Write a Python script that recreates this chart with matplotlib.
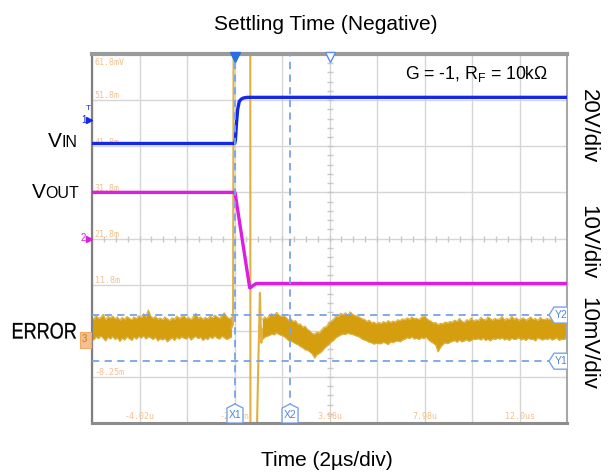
import numpy as np
import matplotlib
matplotlib.use("Agg")
import matplotlib.pyplot as plt
from matplotlib.patches import Polygon, Rectangle, PathPatch
from matplotlib.textpath import TextPath
from matplotlib.font_manager import FontProperties
from matplotlib.transforms import Affine2D

plt.rcParams['font.family'] = ['Liberation Sans', 'DejaVu Sans']
plt.rcParams['mathtext.fontset'] = 'custom'
plt.rcParams['mathtext.rm'] = 'Liberation Sans'

# ---------------- scope setup ----------------
T_MIN, T_MAX = -6.02, 13.98          # µs, 2 µs/div
N_DIV_Y = 8

VIN_SCALE, VIN_GND = 20.0, 6.57      # V/div, ground position (div)
VOUT_SCALE, VOUT_GND = 10.0, 4.00
ERR_SCALE, ERR_GND = 10.0, 1.84      # mV/div

# ---------------- traces ----------------
vin_t = [-6.02, -0.01, 0.02, 0.06, 0.11, 0.18, 0.26, 0.35, 0.50, 13.98]
vin_v = [-10.2, -10.2, -8.5, -2.0, 4.4, 8.0, 9.0, 9.5, 9.8, 9.8]

vout_t = [-6.02, 0.00, 0.62, 0.67, 0.76, 0.90, 13.98]
vout_v = [10.0, 10.0, -10.7, -10.6, -10.2, -9.75, -9.75]

# error amplifier output: noise envelope before the step (mV)
err_pre_t0, err_pre_dt = -6.05, 0.1
err_pre_hi = [4.6, 4.1, 4.9, 4.3, 4.5, 5.2, 4.0, 4.7, 4.4, 4.8,
              4.2, 4.6, 3.9, 4.5, 4.1, 4.7, 4.3, 4.0, 4.6, 4.2,
              4.9, 4.4, 5.3, 4.6, 6.1, 4.8, 4.3, 4.7, 4.1, 4.4,
              4.0, 4.6, 4.2, 3.8, 4.4, 4.1, 4.8, 4.3, 4.6, 4.9,
              4.2, 4.5, 4.0, 4.7, 5.4, 4.3, 4.6, 4.1, 4.5, 4.2,
              4.8, 4.4, 5.0, 4.6, 4.3, 4.9, 5.5, 4.7, 4.2, 4.5]
err_pre_lo = [0.2, -0.4, 0.3, -0.1, 0.5, 0.0, -0.6, 0.2, -0.2, 0.4,
              -0.3, 0.1, -0.7, 0.0, -0.4, 0.3, -0.1, -0.5, 0.2, -0.2,
              0.4, 0.0, 0.5, -0.2, 0.3, 0.1, -0.3, 0.2, -0.6, -0.1,
              -0.4, 0.0, -0.8, -0.3, 0.1, -0.5, 0.2, -0.2, 0.3, 0.0,
              -0.2, 0.3, -0.4, 0.1, 0.4, -0.1, 0.2, -0.5, 0.0, -0.3,
              0.3, -0.1, 0.5, 0.0, -0.2, 0.4, 0.1, -0.3, 0.0, 0.2]

# overload / recovery during the step (mV, clipped at screen edges)
err_step_t = [-0.15, -0.08, -0.06, 0.645, 0.65, 0.93, 0.98, 1.05, 1.08, 1.11, 1.15]
err_step_mv = [2.2, 3.0, 61.6, 61.6, -18.4, -18.4, -6.0, 9.8, 4.0, -1.0, 2.0]

# noise envelope after recovery (mV)
err_post_t0, err_post_dt = 1.15, 0.1
err_post_hi = [4.0, 4.6, 4.2, 5.0, 5.3, 4.8, 5.6, 5.0, 4.7, 4.9,
               4.5, 3.9, 4.2, 3.6, 3.8, 3.0, 3.1, 2.4, 2.6, 1.9,
               1.6, 1.0, 0.9, 1.3, 1.1, 1.8, 2.4, 2.5, 3.3, 3.7,
               4.1, 4.8, 4.6, 5.4, 5.1, 5.5, 5.0, 5.7, 5.2, 4.9,
               4.8, 4.5, 4.2, 4.1, 3.6, 3.9, 3.3, 3.5, 3.1, 3.4,
               3.2, 3.6, 3.3, 3.8, 3.4, 3.7, 3.5, 4.0, 3.8, 4.2,
               4.0, 4.4, 4.1, 4.6, 4.2, 4.3, 4.0, 4.5, 4.9, 4.4,
               3.9, 3.7, 3.3, 3.4, 2.9, 3.2, 3.1, 3.5, 3.3, 3.6,
               3.5, 3.9, 3.6, 4.3, 3.7, 3.4, 4.0, 3.8, 4.4, 3.7,
               4.0, 3.8, 4.5, 4.1, 3.9, 4.6, 4.2, 3.9, 4.3, 4.0,
               4.2, 4.7, 3.9, 4.3, 4.0, 4.8, 4.1, 4.4, 3.9, 4.2,
               4.4, 3.9, 4.2, 4.6, 4.0, 4.3, 3.8, 4.5, 4.1, 4.0,
               4.3, 4.0, 4.6, 3.9, 4.2, 4.4, 3.8, 4.1, 4.3, 4.0]
err_post_lo = [-0.3, 0.2, 0.4, 0.6, 0.9, 0.7, 1.2, 0.8, 0.6, 0.4,
               0.0, -0.5, -0.6, -0.9, -1.2, -1.4, -1.8, -2.1, -2.5, -2.6,
               -3.0, -3.4, -4.3, -3.6, -3.3, -2.9, -2.3, -1.8, -1.4, -0.8,
               -0.5, 0.1, 0.4, 0.7, 0.9, 0.8, 1.1, 0.9, 0.8, 0.6,
               0.4, 0.2, -0.2, -0.4, -0.6, -0.9, -1.0, -1.3, -1.1, -1.2,
               -1.2, -0.9, -1.1, -1.4, -0.8, -1.0, -0.7, -0.6, -0.8, -0.4,
               -0.2, 0.1, -0.1, 0.3, -0.2, 0.0, -0.3, 0.1, -0.1, 0.2,
               -0.4, -0.8, -1.1, -1.5, -3.0, -2.0, -1.4, -1.0, -1.2, -0.9,
               -0.7, -0.5, -0.9, -0.4, -0.8, -0.6, -0.3, -0.7, -0.5, -0.2,
               -0.3, -0.1, -0.4, 0.0, -0.5, -0.2, -0.6, -0.1, -0.3, 0.0,
               -0.2, 0.1, -0.4, -0.1, -0.5, 0.0, -0.3, -0.2, 0.1, -0.4,
               -0.1, -0.5, 0.0, -0.3, -0.2, -0.6, 0.1, -0.2, -0.4, -0.1,
               -0.3, 0.0, -0.4, -0.2, 0.1, -0.5, -0.2, -0.3, 0.0, -0.2]

# cursors
cursor_x = {"X1": 0.0, "X2": 2.32}      # µs
cursor_y = {"Y1": -5.0, "Y2": 5.0}      # mV (error channel)

# on-screen scale readouts
time_labels = ["-4.02u", "-20.0n", "3.98u", "7.98u", "12.0us"]
time_label_t = [-4.02, -0.02, 3.98, 7.98, 11.98]
level_labels = ["61.8mV", "51.8m", "41.8m", "31.8m", "21.8m", "11.8m", "1.75m", "-8.25m"]
level_label_div = [8, 7, 6, 5, 4, 3, 2, 1]

# ---------------- colours ----------------
C_VIN = '#1428e6'
C_VOUT = '#dc1ee0'
C_ERR = '#d49e0e'
C_ERR_EDGE = '#dcb040'
C_CUR = '#78a4e8'
C_GRID = '#d6d6d6'
C_READ = '#f4c08c'

W, H = 608, 473
fig = plt.figure(figsize=(W / 100, H / 100), dpi=100)
ax = fig.add_axes([92 / W, (H - 423) / H, 475 / W, 369 / H])
ax.set_xlim(T_MIN, T_MAX)
ax.set_ylim(0, N_DIV_Y)


def fx(px):
    return px / W


def fy(py):
    return 1 - py / H


def to_div(values, scale, gnd):
    return gnd + np.asarray(values, dtype=float) / scale


# graticule
xt = np.arange(T_MIN, T_MAX + 1e-6, 2.0)
ax.set_xticks(xt)
ax.set_yticks(np.arange(0, N_DIV_Y + 1))
ax.tick_params(length=0, labelbottom=False, labelleft=False)
ax.grid(True, color=C_GRID, lw=1.0, zorder=0)
ax.set_axisbelow(True)
for side, c, lw in [('left', '#808080', 1.6), ('bottom', '#8c8c8c', 2.2),
                    ('top', '#9a9a9a', 3.0), ('right', '#a8a8a8', 1.5)]:
    ax.spines[side].set_color(c)
    ax.spines[side].set_linewidth(lw)

# minor marks along the centre lines
t_center = 3.98
mt = np.arange(T_MIN, T_MAX + 1e-6, 0.5)
ax.plot(mt, np.full_like(mt, 4.0), ls='none', marker='|', ms=4.5, mew=1.0,
        color='#c8c8c8', zorder=0.6)
my = np.arange(0, N_DIV_Y + 1e-6, 0.2)
ax.plot(np.full_like(my, t_center), my, ls='none', marker='_', ms=4.5, mew=1.0,
        color='#c8c8c8', zorder=0.6)

# scale readouts
for lbl, d in zip(level_labels, level_label_div):
    if d == N_DIV_Y:
        ax.annotate(lbl, (T_MIN, d), xytext=(2, -3), textcoords='offset points',
                    ha='left', va='top', fontsize=6, color=C_READ,
                    family='DejaVu Sans Mono', zorder=1)
    else:
        ax.annotate(lbl, (T_MIN, d), xytext=(2, 3), textcoords='offset points',
                    ha='left', va='center', fontsize=6, color=C_READ,
                    family='DejaVu Sans Mono', zorder=1)
for lbl, t in zip(time_labels, time_label_t):
    ax.annotate(lbl, (t, 0), xytext=(0, 4.5), textcoords='offset points',
                ha='center', va='center', fontsize=6, color=C_READ,
                family='DejaVu Sans Mono', zorder=1)

# error channel
t_pre = err_pre_t0 + err_pre_dt * np.arange(len(err_pre_hi))
t_post = err_post_t0 + err_post_dt * np.arange(len(err_post_hi))
for tt, hi, lo in [(t_pre, err_pre_hi, err_pre_lo), (t_post, err_post_hi, err_post_lo)]:
    yh = to_div(hi, ERR_SCALE, ERR_GND)
    yl = to_div(lo, ERR_SCALE, ERR_GND)
    ax.fill_between(tt, yl, yh, color=C_ERR, lw=0, zorder=2)
    ax.plot(tt, yh, color=C_ERR_EDGE, lw=0.8, zorder=2)
    ax.plot(tt, yl, color=C_ERR_EDGE, lw=0.8, zorder=2)
ax.plot(err_step_t, to_div(err_step_mv, ERR_SCALE, ERR_GND), color='#e0b040',
        lw=1.5, zorder=2.2)

# output and input
ax.plot(vout_t, to_div(vout_v, VOUT_SCALE, VOUT_GND), color=C_VOUT, lw=2.4,
        solid_joinstyle='round', zorder=3)
ax.plot(vin_t, to_div(vin_v, VIN_SCALE, VIN_GND), color=C_VIN, lw=2.4,
        solid_joinstyle='round', zorder=3.1)

# cursors
px_per_us = 475 / (T_MAX - T_MIN)
px_per_div = 369 / N_DIV_Y
for name, t in cursor_x.items():
    ax.axvline(t, color=C_CUR, lw=1.3, ls=(0, (4, 3)), zorder=4)
    hw = 8 / px_per_us
    sh, tip = 15 / px_per_div, 19 / px_per_div
    ax.add_patch(Polygon([(t - hw, 0), (t - hw, sh), (t, tip), (t + hw, sh), (t + hw, 0)],
                         closed=True, fc='white', ec=C_CUR, lw=1.0, zorder=5))
    ax.text(t, 0.17, name, ha='center', va='center', fontsize=7.5,
            color='#4f86dc', zorder=6)
for name, mv in cursor_y.items():
    y = ERR_GND + mv / ERR_SCALE
    ax.axhline(y, color=C_CUR, lw=1.3, ls=(0, (4, 3)), zorder=4)
    tip = T_MAX - 18 / px_per_us
    sh = T_MAX - 13 / px_per_us
    hh = 8 / px_per_div
    ax.add_patch(Polygon([(T_MAX + 0.2, y - hh), (sh, y - hh), (tip, y), (sh, y + hh),
                          (T_MAX + 0.2, y + hh)], closed=True, fc='white', ec=C_CUR,
                         lw=1.0, zorder=5))
    ax.text(T_MAX - 6 / px_per_us, y, name, ha='center', va='center', fontsize=7.5,
            color='#4f86dc', zorder=6)

# trigger / centre markers on top edge
ax.plot([0.0], [N_DIV_Y - 0.06], marker='v', ms=7, color='#2a6ee0', clip_on=False,
        zorder=7)
ax.plot([t_center], [N_DIV_Y - 0.06], marker='v', ms=7, mfc='white', mec='#5c8fe0',
        mew=1.0, clip_on=False, zorder=7)

# channel ground markers on the left edge
ax.plot([-6.02 - 3 / px_per_us], [VIN_GND], marker='>', ms=5, color=C_VIN,
        clip_on=False, zorder=7)
fig.text(fx(84), fy(120), "1", ha='center', va='center', fontsize=7, color=C_VIN)
fig.text(fx(88), fy(108), "T", ha='center', va='center', fontsize=6, color=C_VIN)
ax.plot([-6.02 - 3 / px_per_us], [VOUT_GND], marker='>', ms=5, color=C_VOUT,
        clip_on=False, zorder=7)
fig.text(fx(83), fy(238), "2", ha='center', va='center', fontsize=7, color=C_VOUT)
fig.patches.append(Rectangle((fx(80), fy(348)), 11 / W, 16 / H, transform=fig.transFigure,
                             fc='#f5c08e', ec='#eeaa66', lw=0.8, zorder=3))
fig.text(fx(84), fy(339), "3", ha='center', va='center', fontsize=7, color='#c77a20',
         zorder=4)
ax.plot([-6.02 - 2 / px_per_us], [ERR_GND], marker='>', ms=4, color='#c77a20',
        clip_on=False, zorder=7)

# channel names
fig.text(fx(62), fy(147), "V", ha='right', va='baseline', fontsize=15)
fig.text(fx(61.5), fy(147), "IN", ha='left', va='baseline', fontsize=11.5)
fig.text(fx(45.5), fy(198), "V", ha='right', va='baseline', fontsize=15)
fig.text(fx(45), fy(198.5), "OUT", ha='left', va='baseline', fontsize=11.5)

# "ERROR" is set in a condensed face: draw its outline squeezed horizontally
err_path = TextPath((0, 0), "ERROR", size=22.5, prop=FontProperties(family='Liberation Sans'))
ext = err_path.get_extents()
sx = 63.0 / ext.width
err_tf = (Affine2D().translate(-ext.x0, 0).scale(sx / 100, 1 / 100)
          .translate(13 / 100, (H - 338.5) / 100) + fig.dpi_scale_trans)
fig.patches.append(PathPatch(err_path, transform=err_tf, fc='black', ec='black', lw=0.2))

# per-channel vertical scales
fig.text(fx(588), fy(126), "20V/div", rotation=270, ha='center', va='center', fontsize=16)
fig.text(fx(588), fy(242), "10V/div", rotation=270, ha='center', va='center', fontsize=16)
fig.text(fx(588), fy(343), "10mV/div", rotation=270, ha='center', va='center', fontsize=16)

# titles
fig.text(fx(325.5), fy(29.5), "Settling Time (Negative)", ha='center', va='baseline',
         fontsize=15)
fig.text(fx(327), fy(466), "Time (2µs/div)", ha='center', va='baseline', fontsize=15)
ax.text(T_MAX - 19 / px_per_us, N_DIV_Y - 25 / px_per_div,
        r"G = -1, R$_\mathregular{F}$ = 10kΩ", ha='right', va='baseline',
        fontsize=12.7, zorder=8)

fig.savefig("out.png", dpi=100)
